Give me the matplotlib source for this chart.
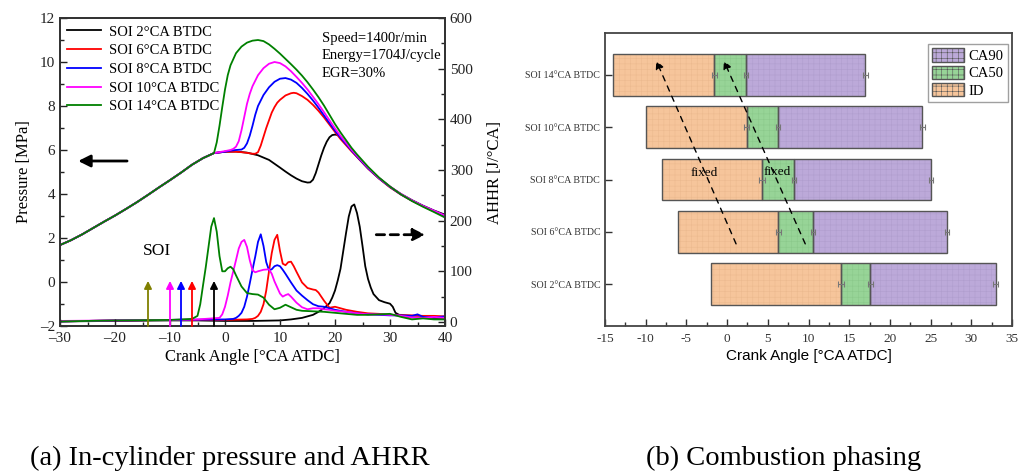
import matplotlib
matplotlib.use("Agg")
import matplotlib.pyplot as plt
from matplotlib.patches import Patch
from matplotlib.ticker import MultipleLocator
import numpy as np

SERIF = ["Liberation Serif", "DejaVu Serif"]
SANS = ["Liberation Sans", "DejaVu Sans"]

# ---------------- data: panel (a) ----------------
series_labels = ["SOI 2°CA BTDC", "SOI 6°CA BTDC", "SOI 8°CA BTDC",
                 "SOI 10°CA BTDC", "SOI 14°CA BTDC"]
series_colors = ["#000000", "#FF0000", "#0000FF", "#FF00FF", "#008000"]
soi_positions = [-2, -6, -8, -10, -14]
soi_arrow_colors = ["#000000", "#FF0000", "#0000FF", "#FF00FF", "#808000"]

# shared compression part of the pressure trace
ca_comp = [-30, -28, -26, -24, -22, -20, -18, -16, -14, -12, -10, -8, -6, -4, -2]
p_comp = [1.68, 1.9, 2.16, 2.45, 2.74, 3.02, 3.32, 3.63, 3.96, 4.3, 4.63, 4.97, 5.33, 5.63, 5.86]

ca_p_soi2 = [0, 2, 4, 6, 8, 10, 11, 12, 13, 14, 15, 15.5, 16, 16.5, 17, 17.5, 18, 18.5, 19,
             19.5, 20, 20.5, 21, 22, 23, 24, 26, 28, 30, 32, 34, 36, 38, 40]
p_soi2 = [5.92, 5.93, 5.88, 5.76, 5.55, 5.2, 5.02, 4.85, 4.7, 4.58, 4.52, 4.53, 4.65, 4.95,
          5.35, 5.75, 6.1, 6.38, 6.58, 6.68, 6.7, 6.68, 6.6, 6.3, 6.0, 5.72, 5.18, 4.72,
          4.33, 4.0, 3.72, 3.47, 3.25, 3.06]

ca_p_soi6 = [0, 2, 3, 4, 5, 5.5, 6, 6.5, 7, 7.5, 8, 8.5, 9, 9.5, 10, 11, 12, 12.5, 13, 14,
             15, 16, 17, 18, 19, 20, 21, 22, 23, 24, 26, 28, 30, 32, 34, 36, 38, 40]
p_soi6 = [5.92, 5.92, 5.9, 5.87, 5.83, 5.83, 5.9, 6.2, 6.6, 7.0, 7.35, 7.7, 7.95, 8.15, 8.28,
          8.48, 8.58, 8.6, 8.58, 8.45, 8.28, 8.05, 7.78, 7.48, 7.15, 6.82, 6.5, 6.22, 5.94,
          5.68, 5.15, 4.7, 4.3, 3.97, 3.69, 3.44, 3.21, 2.99]

ca_p_soi8 = [0, 1, 2, 3, 3.5, 4, 4.5, 5, 5.5, 6, 7, 8, 9, 10, 11, 12, 13, 14, 15, 16, 17,
             18, 19, 20, 21, 22, 23, 24, 26, 28, 30, 32, 34, 36, 38, 40]
p_soi8 = [5.92, 5.97, 6.0, 6.02, 6.1, 6.3, 6.65, 7.1, 7.6, 8.0, 8.5, 8.85, 9.1, 9.24, 9.27,
          9.2, 9.05, 8.82, 8.55, 8.25, 7.92, 7.57, 7.22, 6.88, 6.56, 6.27, 5.98, 5.7, 5.17,
          4.71, 4.32, 3.98, 3.7, 3.45, 3.23, 3.0]

ca_p_soi10 = [0, 1, 1.5, 2, 2.5, 3, 3.5, 4, 4.5, 5, 6, 7, 8, 9, 10, 11, 12, 13, 14, 15, 16,
              17, 18, 19, 20, 21, 22, 23, 24, 26, 28, 30, 32, 34, 36, 38, 40]
p_soi10 = [5.95, 6.0, 6.05, 6.15, 6.4, 6.9, 7.5, 8.1, 8.55, 8.9, 9.4, 9.72, 9.92, 10.0, 9.95,
           9.8, 9.58, 9.32, 9.05, 8.75, 8.42, 8.08, 7.72, 7.35, 6.98, 6.64, 6.33, 6.02, 5.74,
           5.2, 4.73, 4.34, 4.0, 3.71, 3.46, 3.24, 3.02]

ca_p_soi14 = [-1.5, -1, -0.5, 0, 0.5, 1, 2, 3, 4, 5, 6, 7, 8, 9, 10, 11, 12, 13, 14, 15, 16,
              17, 18, 19, 20, 21, 22, 23, 24, 26, 28, 30, 32, 34, 36, 38, 40]
p_soi14 = [6.35, 7.1, 7.95, 8.75, 9.4, 9.85, 10.4, 10.7, 10.88, 10.97, 11.0, 10.95, 10.8,
           10.6, 10.38, 10.14, 9.9, 9.65, 9.38, 9.08, 8.75, 8.4, 8.02, 7.6, 7.18, 6.8, 6.45,
           6.1, 5.8, 5.24, 4.75, 4.34, 3.98, 3.68, 3.42, 3.18, 2.93]

# apparent heat release rate [J/°CA]
ca_h_soi2 = [-30, -20, -10, -5, 0, 5, 10, 12, 14, 16, 17, 18, 19, 19.5, 20, 20.5, 21, 21.5,
             22, 22.5, 23, 23.5, 24, 24.5, 25, 25.5, 26, 26.5, 27, 28, 29, 30, 30.5, 31, 32,
             34, 36, 38, 40]
h_soi2 = [1, 2, 3, 3, 2, 2, 3, 5, 8, 14, 20, 27, 37, 48, 62, 82, 105, 140, 175, 208, 228,
          232, 215, 188, 150, 110, 85, 68, 55, 43, 39, 36, 30, 18, 12, 9, 9, 8, 8]

ca_h_soi6 = [-30, -20, -10, 0, 4, 5, 5.5, 6, 6.5, 7, 7.5, 8, 8.5, 9, 9.5, 10, 10.5, 11, 11.5,
             12, 12.5, 13, 14, 15, 16, 16.5, 17, 18, 19, 20, 21, 22, 24, 26, 28, 30, 32, 34,
             36, 38, 40]
h_soi6 = [1, 3, 4, 4, 5, 6, 8, 12, 20, 35, 62, 100, 136, 162, 172, 140, 115, 112, 118, 119,
          110, 99, 78, 67, 64, 63, 58, 42, 28, 30, 27, 24, 20, 17, 16, 14, 14, 13, 12, 12, 11]

ca_h_soi8 = [-30, -20, -10, 0, 1.5, 2, 2.5, 3, 3.5, 4, 4.5, 5, 5.5, 6, 6.5, 7, 7.5, 8, 8.5,
             9, 9.5, 10, 10.5, 11, 12, 13, 14, 15, 16, 17, 18, 19, 20, 22, 24, 26, 28, 30,
             32, 34, 35, 36, 38, 40]
h_soi8 = [1, 3, 4, 5, 6, 8, 12, 18, 30, 50, 76, 103, 129, 158, 173, 150, 118, 102, 104, 110,
          112, 110, 103, 95, 78, 62, 52, 43, 35, 31, 30, 27, 24, 20, 17, 15, 14, 13, 13, 12,
          15, 10, 9, 11]

ca_h_soi10 = [-30, -20, -10, -5, -1, -0.5, 0, 0.5, 1, 1.5, 2, 2.5, 3, 3.5, 4, 4.5, 5, 5.5, 6,
              7, 8, 8.5, 9, 9.5, 10, 10.5, 11, 11.5, 12, 13, 14, 15, 16, 17, 18, 19, 20, 22,
              24, 26, 28, 30, 32, 34, 36, 38, 40]
h_soi10 = [2, 3, 4, 5, 8, 15, 30, 52, 78, 100, 122, 145, 158, 162, 148, 122, 102, 98, 100,
           103, 104, 95, 80, 68, 56, 50, 53, 55, 50, 38, 29, 25, 27, 27, 25, 24, 22, 20, 17,
           15, 15, 14, 12, 9, 8, 10, 8]

ca_h_soi14 = [-30, -20, -10, -6, -5, -4.5, -4, -3.5, -3, -2.5, -2, -1.5, -1, -0.5, 0, 0.5, 1,
              1.5, 2, 3, 4, 5, 6, 7, 8, 9, 10, 11, 12, 13, 14, 16, 18, 20, 22, 24, 26, 28,
              30, 32, 34, 36, 38, 40]
h_soi14 = [1, 3, 4, 6, 12, 35, 72, 108, 148, 188, 205, 178, 130, 100, 100, 106, 109, 104, 92,
           70, 57, 55, 54, 48, 34, 25, 28, 34, 29, 24, 22, 21, 20, 18, 16, 14, 14, 15, 16,
           10, 5, 7, 5, 5]

pressure_series = [(ca_p_soi2, p_soi2), (ca_p_soi6, p_soi6), (ca_p_soi8, p_soi8),
                   (ca_p_soi10, p_soi10), (ca_p_soi14, p_soi14)]
ahrr_series = [(ca_h_soi2, h_soi2), (ca_h_soi6, h_soi6), (ca_h_soi8, h_soi8),
               (ca_h_soi10, h_soi10), (ca_h_soi14, h_soi14)]

a_xticks = [-30, -20, -10, 0, 10, 20, 30, 40]
a_xticklabels = ["\u201330", "\u201320", "\u201310", "0", "10", "20", "30", "40"]
a_yticks = [-2, 0, 2, 4, 6, 8, 10, 12]
a_yticklabels = ["\u20132", "0", "2", "4", "6", "8", "10", "12"]

# ---------------- data: panel (b) ----------------
phase_labels = ["SOI 2°CA BTDC", "SOI 6°CA BTDC", "SOI 8°CA BTDC",
                "SOI 10°CA BTDC", "SOI 14°CA BTDC"]
soi_start = [-2, -6, -8, -10, -14]          # start of injection [°CA ATDC]
ca10_end = [14.0, 6.3, 4.3, 2.4, -1.6]      # end of ID
ca50 = [17.6, 10.5, 8.2, 6.2, 2.3]
ca90 = [33.0, 27.0, 25.0, 24.0, 17.0]
err_id = [0.35, 0.3, 0.35, 0.3, 0.3]
err_ca50 = [0.3, 0.25, 0.25, 0.25, 0.25]
err_ca90 = [0.3, 0.25, 0.25, 0.3, 0.3]
b_xticks = [-15, -10, -5, 0, 5, 10, 15, 20, 25, 30, 35]
b_xticklabels = ["-15", "-10", "-5", "0", "5", "10", "15", "20", "25", "30", "35"]
phase_colors = {"ID": "#F6C59B", "CA50": "#97D497", "CA90": "#BCA9D9"}
hatch_colors = {"ID": "#ECBA8F", "CA50": "#8BC98B", "CA90": "#B09ECE"}

# ---------------- figure ----------------
fig = plt.figure(figsize=(10.19, 4.71), dpi=100)

# ===== panel (a) =====
ax = fig.add_axes([60 / 1019, 145 / 471, 385 / 1019, 308 / 471])
ax2 = ax.twinx()
ax.set_zorder(ax2.get_zorder() + 1)
ax.patch.set_visible(False)

lines = []
for (ca, p), col, lab in zip(pressure_series, series_colors, series_labels):
    if ca[0] > -2.1:
        x = ca_comp + ca
        y = p_comp + p
    else:
        x, y = ca, p
    ln, = ax.plot(x, y, color=col, lw=1.3, label=lab)
    lines.append(ln)

for (ca, h), col in zip(ahrr_series, series_colors):
    ax2.plot(ca, h, color=col, lw=1.3)

ax.set_xlim(-30, 40)
ax.set_ylim(-2, 12)
ax2.set_ylim(-8, 600)
ax.set_xticks(a_xticks)
ax.set_xticklabels(a_xticklabels)
ax.set_yticks(a_yticks)
ax.set_yticklabels(a_yticklabels)
ax.xaxis.set_minor_locator(MultipleLocator(5))
ax.yaxis.set_minor_locator(MultipleLocator(1))
ax2.yaxis.set_major_locator(MultipleLocator(100))
ax2.yaxis.set_minor_locator(MultipleLocator(50))
for a in (ax, ax2):
    a.tick_params(which="both", direction="in", labelsize=11, width=1.0, colors="#222222")
    a.tick_params(which="major", length=5)
    a.tick_params(which="minor", length=3)
    for lab in a.get_xticklabels() + a.get_yticklabels():
        lab.set_fontfamily(SERIF)
    for sp in a.spines.values():
        sp.set_linewidth(1.3)
        sp.set_color("#333333")
ax.tick_params(axis="y", right=False)
ax.tick_params(axis="x", top=False, pad=4)
ax.set_xlabel("Crank Angle [°CA ATDC]", fontfamily=SERIF, fontsize=12, labelpad=3)
ax.set_ylabel("Pressure [MPa]", fontfamily=SERIF, fontsize=12, labelpad=6)
ax2.set_ylabel("AHHR [J/°CA]", fontfamily=SERIF, fontsize=12, labelpad=10)

ax.legend(handles=lines, loc="upper left", frameon=False,
          prop={"family": SERIF, "size": 10.5}, handlelength=2.3,
          borderaxespad=0.1, labelspacing=0.38, handletextpad=0.55,
          bbox_to_anchor=(0.0, 1.0))

ax.text(0.68, 0.955, "Speed=1400r/min\nEnergy=1704J/cycle\nEGR=30%", transform=ax.transAxes,
        ha="left", va="top", fontfamily=SERIF, fontsize=10.5, linespacing=1.45)
ax.text(-14.9, 1.4, "SOI", fontfamily=SERIF, fontsize=12.5, ha="left", va="center")

# pressure / AHRR arrows
ax.annotate("", xy=(-27.2, 5.5), xytext=(-17.3, 5.5),
            arrowprops=dict(arrowstyle="-|>", color="k", lw=2.0, mutation_scale=18))
ax.annotate("", xy=(36.9, 2.15), xytext=(27.0, 2.15),
            arrowprops=dict(arrowstyle="-|>", color="k", lw=2.0, mutation_scale=18,
                            linestyle=(0, (3, 2))))

# SOI arrows
for xs, col in zip(soi_positions, soi_arrow_colors):
    ax.annotate("", xy=(xs, 0.05), xytext=(xs, -2.0),
                arrowprops=dict(arrowstyle="-|>", color=col, lw=1.3, mutation_scale=11,
                                shrinkA=0, shrinkB=0))

# ===== panel (b) =====
bx = fig.add_axes([605 / 1019, 145 / 471, 407 / 1019, 293 / 471])
ypos = np.arange(1, len(phase_labels) + 1)
bh = 0.8
plt.rcParams["hatch.linewidth"] = 0.4

segments = [("ID", soi_start, ca10_end), ("CA50", ca10_end, ca50), ("CA90", ca50, ca90)]
for name, lo, hi in segments:
    lo = np.array(lo)
    hi = np.array(hi)
    bx.barh(ypos, hi - lo, left=lo, height=bh, color=phase_colors[name],
            edgecolor=hatch_colors[name], hatch="+++", linewidth=0, zorder=2)
    bx.barh(ypos, hi - lo, left=lo, height=bh, fill=False, edgecolor="#555555",
            linewidth=1.0, zorder=3)

for xs, er in ((ca10_end, err_id), (ca50, err_ca50), (ca90, err_ca90)):
    bx.errorbar(xs, ypos, xerr=er, fmt="none", ecolor="#777777", elinewidth=0.8,
                capsize=2.5, capthick=0.8, zorder=4)

bx.set_xlim(-15, 35)
bx.set_ylim(0.2, 5.8)
bx.set_yticks(ypos)
bx.set_yticklabels(phase_labels, fontfamily=SERIF, fontsize=7.2)
bx.set_xticks(b_xticks)
bx.set_xticklabels(b_xticklabels, fontfamily=SERIF, fontsize=9.5)
bx.xaxis.set_minor_locator(MultipleLocator(2.5))
bx.tick_params(which="both", direction="in", colors="#333333")
bx.tick_params(which="major", length=5, width=1.0)
bx.tick_params(which="minor", length=3, width=1.0)
bx.tick_params(axis="x", pad=5)
for sp in bx.spines.values():
    sp.set_linewidth(1.3)
    sp.set_color("#444444")
bx.set_xlabel("Crank Angle [°CA ATDC]", fontfamily=SANS, fontsize=11, labelpad=3)

handles = [Patch(facecolor=phase_colors[k], edgecolor="#555555", hatch="+++", label=k)
           for k in ("CA90", "CA50", "ID")]
bx.legend(handles=handles, loc="upper right", bbox_to_anchor=(1.0, 0.976),
          prop={"family": SERIF, "size": 10.5},
          frameon=True, fancybox=False, edgecolor="#888888", borderaxespad=0.27,
          handlelength=2.2, handleheight=1.05, labelspacing=0.17, borderpad=0.3,
          handletextpad=0.3)

# trend arrows (dashed)
dash = (0, (4, 4))
bx.annotate("", xy=(-8.7, 5.27), xytext=(1.1, 1.77),
            arrowprops=dict(arrowstyle="-|>", color="k", lw=1.0, linestyle=dash,
                            mutation_scale=12, shrinkA=0, shrinkB=0), zorder=5)
bx.annotate("", xy=(-0.4, 5.27), xytext=(9.6, 1.77),
            arrowprops=dict(arrowstyle="-|>", color="k", lw=1.0, linestyle=dash,
                            mutation_scale=12, shrinkA=0, shrinkB=0), zorder=5)
bx.text(-2.8, 3.12, "fixed", fontfamily=SERIF, fontsize=9.5, ha="center", va="center", zorder=6)
bx.text(6.1, 3.14, "fixed", fontfamily=SERIF, fontsize=9.5, ha="center", va="center", zorder=6)

# captions
fig.text(30 / 1019, 6 / 471, "(a) In-cylinder pressure and AHRR", fontfamily=SERIF,
         fontsize=20.5, ha="left", va="baseline")
fig.text(646 / 1019, 6 / 471, "(b) Combustion phasing", fontfamily=SERIF,
         fontsize=20.5, ha="left", va="baseline")

fig.savefig("out.png", dpi=100)
